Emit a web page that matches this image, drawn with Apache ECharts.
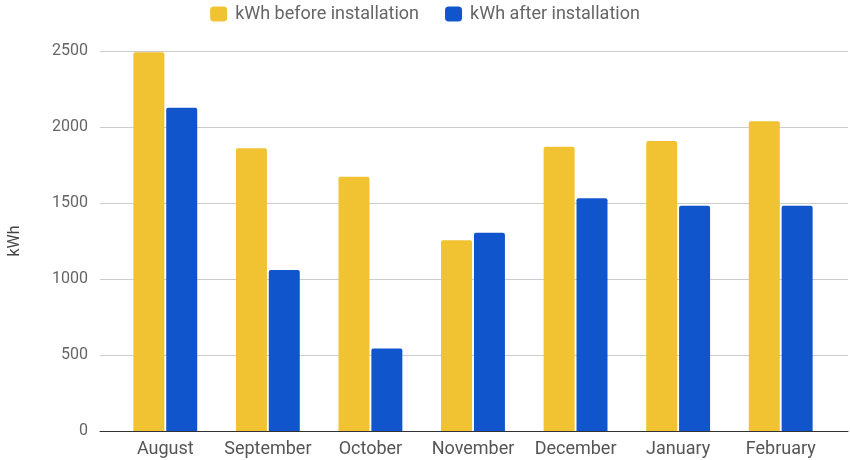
<!DOCTYPE html>
<html>
<head>
<meta charset="utf-8">
<script src="https://cdn.jsdelivr.net/npm/echarts@6/dist/echarts.min.js"></script>
<style>
  html, body { margin: 0; padding: 0; background: #fff; }
  #chart { width: 850px; height: 460px; }
</style>
</head>
<body>
<div id="chart"></div>
<script>
const months = ['August', 'September', 'October', 'November', 'December', 'January', 'February']
const beforeInstall = [2492, 1860, 1672, 1255, 1870, 1908, 2038]
const afterInstall = [2127, 1059, 542, 1305, 1532, 1482, 1482]
const seriesNames = ['kWh before installation', 'kWh after installation']

const font = 'Roboto, "Noto Sans", sans-serif'
const yMin = 0
const yMax = 2500
const yStep = 500

const chart = echarts.init(document.getElementById('chart'), null, { renderer: 'canvas' })

// grid 0: gridlines, y labels and baseline (wide, like the sheets chart)
// grid 1: the bars and month labels
chart.setOption({
  animation: false,
  color: ['#F1C232', '#1155CC'],
  textStyle: { fontFamily: font },
  legend: {
    top: 0,
    left: 'center',
    itemWidth: 17,
    itemHeight: 15,
    itemGap: 26,
    icon: 'roundRect',
    textStyle: { fontSize: 18, color: '#666', fontFamily: font, padding: [0, 0, 0, 3] }
  },
  grid: [
    { top: 51, bottom: 29, left: 100, right: 2, outerBoundsMode: 'none' },
    { top: 51, bottom: 29, left: 114, right: 18, outerBoundsMode: 'none' }
  ],
  xAxis: [{
    gridIndex: 0,
    type: 'category',
    data: months,
    axisTick: { show: false },
    axisLabel: { show: false },
    axisLine: { lineStyle: { color: '#333', width: 1 } }
  }, {
    gridIndex: 1,
    type: 'category',
    data: months,
    axisTick: { show: false },
    axisLine: { show: false },
    axisLabel: { interval: 0, hideOverlap: false, fontSize: 18, color: '#555', margin: 9, fontFamily: font }
  }],
  yAxis: [{
    gridIndex: 0,
    type: 'value',
    name: 'kWh',
    nameLocation: 'middle',
    nameRotate: 90,
    nameGap: 77,
    nameTextStyle: { fontSize: 16, color: '#444', fontFamily: font },
    min: yMin,
    max: yMax,
    interval: yStep,
    axisLabel: { fontSize: 16, color: '#666', margin: 12, fontFamily: font, formatter: v => String(v) },
    splitLine: { lineStyle: { color: '#ccc', width: 1 } }
  }, {
    gridIndex: 1,
    type: 'value',
    min: yMin,
    max: yMax,
    interval: yStep,
    axisLabel: { show: false },
    axisLine: { show: false },
    splitLine: { show: false }
  }],
  series: [{
    name: seriesNames[0],
    type: 'bar',
    xAxisIndex: 1,
    yAxisIndex: 1,
    barWidth: 31,
    barGap: '6%',
    itemStyle: { borderRadius: [2, 2, 0, 0] },
    data: beforeInstall
  }, {
    name: seriesNames[1],
    type: 'bar',
    xAxisIndex: 1,
    yAxisIndex: 1,
    barWidth: 31,
    barGap: '6%',
    itemStyle: { borderRadius: [2, 2, 0, 0] },
    data: afterInstall
  }]
})
</script>
</body>
</html>
